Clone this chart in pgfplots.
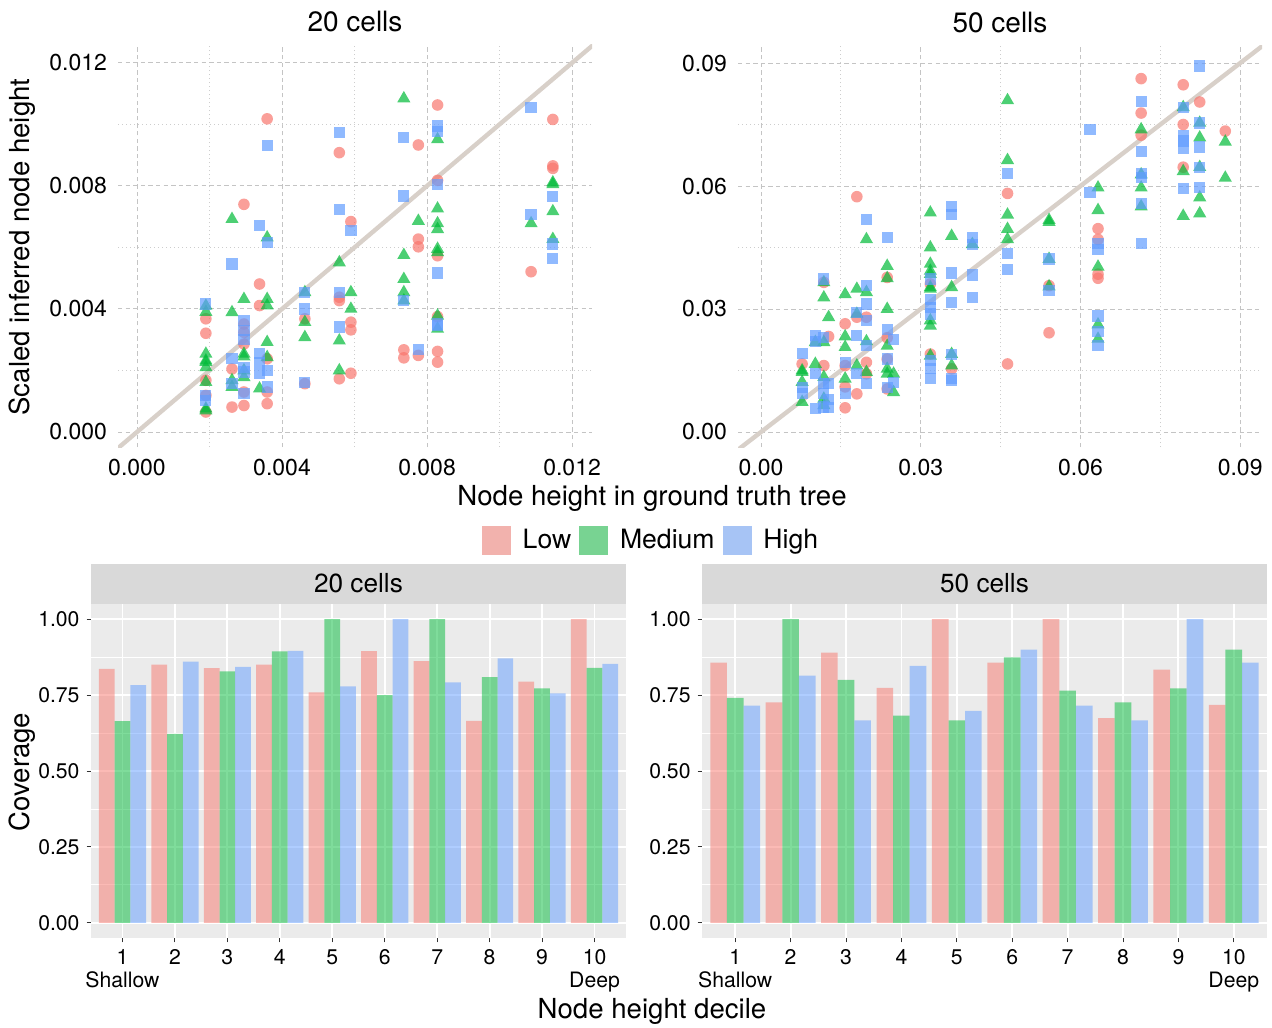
\documentclass[border=0pt]{standalone}
\usepackage{fontspec}
\setmainfont{TeX Gyre Heros}
\usepackage{pgfplots}
\usepackage{pgfplotstable}
\pgfplotsset{compat=1.18}

\definecolor{lowc}{HTML}{F8766D}
\definecolor{medc}{HTML}{00BA38}
\definecolor{highc}{HTML}{619CFF}
\definecolor{lowkey}{HTML}{F2B2AD}
\definecolor{medkey}{HTML}{78D392}
\definecolor{highkey}{HTML}{A7C4F5}
\definecolor{panelc}{HTML}{EBEBEB}
\definecolor{stripc}{HTML}{D9D9D9}
\definecolor{linec}{HTML}{D8D0C9}
\definecolor{gridc}{HTML}{C4C4C4}
\definecolor{tickc}{HTML}{333333}

% coverage per height decile
\pgfplotstableread{
dec low med high
1 0.836 0.664 0.783
2 0.850 0.622 0.860
3 0.839 0.828 0.843
4 0.850 0.894 0.896
5 0.759 1.000 0.779
6 0.895 0.750 1.000
7 0.862 1.000 0.792
8 0.665 0.809 0.871
9 0.794 0.772 0.756
10 1.000 0.840 0.853
}\covtwenty

\pgfplotstableread{
dec low med high
1 0.857 0.741 0.715
2 0.726 1.000 0.814
3 0.890 0.800 0.667
4 0.774 0.682 0.846
5 1.000 0.667 0.698
6 0.857 0.874 0.900
7 1.000 0.765 0.715
8 0.674 0.726 0.667
9 0.834 0.772 1.000
10 0.718 0.900 0.857
}\covfifty

\newcommand{\axisfont}{\fontsize{13.8}{16}\selectfont}

\pgfplotsset{
  every axis title shift=0pt,
  topax/.style={
    scale only axis, height=201pt,
    axis line style={draw=none},
    major tick length=0pt, minor tick length=0pt,
    grid=both,
    major grid style={gridc, line width=0.45pt, dash pattern=on 2.2pt off 1.6pt},
    minor grid style={gridc!85, line width=0.4pt, dash pattern=on 0.7pt off 1.3pt},
    tick label style={font=\fontsize{11.5}{13}\selectfont, text=black},
    xticklabel style={yshift=-2.5pt},
    yticklabel style={xshift=-2pt},
    scaled ticks=false,
    title style={font=\fontsize{14}{16}\selectfont, at={(0.5,1)}, anchor=base, yshift=6.5pt},
  },
  botax/.style={
    scale only axis, height=167pt,
    xmin=0.4, xmax=10.6, ymin=-0.05, ymax=1.05,
    axis background/.style={fill=panelc},
    axis line style={draw=none},
    xtick={1,...,10},
    xticklabels={{1\\Shallow},2,3,4,5,6,7,8,9,{10\\Deep}},
    ytick={0,0.25,0.5,0.75,1},
    yticklabels={0.00,0.25,0.50,0.75,1.00},
    minor ytick={0.125,0.375,0.625,0.875},
    xmajorgrids, ymajorgrids, yminorgrids,
    major grid style={white, line width=0.9pt},
    minor grid style={white, line width=0.45pt},
    xtick pos=lower, ytick pos=left,
    tick align=outside, major tick length=2.2pt, minor tick length=0pt,
    major tick style={tickc, line width=0.5pt},
    tick label style={font=\fontsize{10.6}{11.5}\selectfont, text=black},
    xticklabel style={align=center, anchor=north},
    ybar, bar width=0.3,
    title style={at={(0.5,1)}, anchor=south, fill=stripc, minimum height=20pt,
      inner sep=0pt, font=\fontsize{13.1}{15}\selectfont},
  },
  lowpt/.style={only marks, color=lowc, mark=*, mark size=2.9pt,
    mark options={solid, fill=lowc, draw opacity=0, fill opacity=0.7}, forget plot},
  medpt/.style={only marks, color=medc, mark=triangle*, mark size=3.8pt,
    mark options={solid, fill=medc, draw opacity=0, fill opacity=0.7}, forget plot},
  highpt/.style={only marks, color=highc, mark=square*, mark size=2.8pt,
    mark options={solid, fill=highc, draw opacity=0, fill opacity=0.7}, forget plot},
  diag/.style={no marks, linec, line width=2.2pt, forget plot},
}

\begin{document}
\begin{tikzpicture}
\path[use as bounding box] (0,0) rectangle (636pt,-513.5pt);

% ---- top left: 20 cells
\begin{axis}[topax, at={(59pt,-223.5pt)}, anchor=south west, width=237pt,
  xmin=-0.000524, xmax=0.01255, ymin=-0.000488, ymax=0.01258,
  xtick={0,0.004,0.008,0.012}, minor xtick={0.002,0.006,0.010},
  ytick={0,0.004,0.008,0.012}, minor ytick={0.002,0.006,0.010},
  xticklabels={0.000,0.004,0.008,0.012},
  yticklabels={0.000,0.004,0.008,0.012},
  title={20 cells},
  legend image code/.code={\fill[#1] (0pt,-7pt) rectangle (14pt,7pt); \path (18pt,0pt);},
  legend style={at={(1.1266,-0.2313)}, anchor=center, draw=none, fill=none,
    legend columns=-1, font=\fontsize{13.3}{15}\selectfont,
    /tikz/every even column/.append style={column sep=2pt}},
]
\addplot[diag] coordinates {(-0.001,-0.001) (0.013,0.013)};
\addplot[lowpt] table {
x y
0.0019 0.00368
0.0019 0.00321
0.0019 0.00168
0.0019 0.00119
0.0019 0.00065
0.00262 0.00205
0.00262 0.00081
0.00295 0.0074
0.00295 0.00351
0.00295 0.00324
0.00295 0.00286
0.00295 0.0013
0.00295 0.00086
0.00338 0.00481
0.00338 0.00411
0.00359 0.01018
0.00359 0.00238
0.00359 0.0013
0.00359 0.00092
0.00463 0.00368
0.00463 0.00157
0.00558 0.00908
0.00558 0.00438
0.00558 0.00427
0.00558 0.00173
0.0059 0.00684
0.0059 0.00357
0.0059 0.00332
0.0059 0.00191
0.00736 0.00267
0.00736 0.00241
0.00776 0.00933
0.00776 0.00627
0.00776 0.00602
0.00776 0.00249
0.00829 0.01063
0.00829 0.00818
0.00829 0.00573
0.00829 0.00375
0.00829 0.00262
0.00829 0.00227
0.01087 0.00521
0.01147 0.01016
0.01147 0.00865
0.01147 0.00857
};
\addplot[medpt] table {
x y
0.0019 0.0039
0.0019 0.0041
0.0019 0.00254
0.0019 0.00232
0.0019 0.00227
0.0019 0.0021
0.0019 0.00162
0.0019 0.00076
0.0019 0.0007
0.00262 0.00692
0.00262 0.00389
0.00262 0.00168
0.00262 0.00146
0.00295 0.00432
0.00295 0.00254
0.00295 0.00245
0.00295 0.002
0.00295 0.00178
0.00338 0.00141
0.00359 0.00632
0.00359 0.00432
0.00359 0.00411
0.00359 0.00292
0.00359 0.00243
0.00463 0.00454
0.00463 0.00357
0.00463 0.00308
0.00558 0.00551
0.00558 0.00297
0.00558 0.002
0.0059 0.00454
0.0059 0.004
0.00736 0.01084
0.00736 0.00575
0.00736 0.00497
0.00736 0.00454
0.00736 0.00427
0.00776 0.00686
0.00829 0.00951
0.00829 0.00726
0.00829 0.00678
0.00829 0.00659
0.00829 0.00595
0.00829 0.00584
0.00829 0.00378
0.00829 0.00335
0.01087 0.00678
0.01147 0.00811
0.01147 0.00805
0.01147 0.00717
0.01147 0.00627
};
\addplot[highpt] table {
x y
0.0019 0.00416
0.0019 0.00119
0.0019 0.00103
0.00262 0.00546
0.00262 0.00238
0.00262 0.00157
0.00295 0.00362
0.00295 0.0033
0.00295 0.003
0.00295 0.0021
0.00295 0.00195
0.00295 0.00124
0.00338 0.0067
0.00338 0.00254
0.00338 0.00227
0.00338 0.00189
0.00359 0.00932
0.00359 0.00616
0.00359 0.002
0.00359 0.00146
0.00463 0.00454
0.00463 0.004
0.00463 0.00162
0.00558 0.00973
0.00558 0.00724
0.00558 0.00454
0.00558 0.00341
0.0059 0.00654
0.00736 0.00957
0.00736 0.00767
0.00736 0.00427
0.00776 0.00267
0.00829 0.00995
0.00829 0.00978
0.00829 0.00805
0.00829 0.00517
0.00829 0.00351
0.00829 0.00346
0.01087 0.01056
0.01087 0.00706
0.01147 0.00765
0.01147 0.00611
0.01147 0.00565
};
\addlegendimage{lowkey}
\addlegendentry{Low}
\addlegendimage{medkey}
\addlegendentry{Medium}
\addlegendimage{highkey}
\addlegendentry{High}
\end{axis}

% ---- top right: 50 cells
\begin{axis}[topax, at={(369pt,-223.5pt)}, anchor=south west, width=262pt,
  xmin=-0.00432, xmax=0.0941, ymin=-0.00366, ymax=0.0944,
  xtick={0,0.03,0.06,0.09}, minor xtick={0.015,0.045,0.075},
  ytick={0,0.03,0.06,0.09}, minor ytick={0.015,0.045,0.075},
  xticklabels={0.00,0.03,0.06,0.09},
  yticklabels={0.00,0.03,0.06,0.09},
  title={50 cells},
]
\addplot[diag] coordinates {(-0.01,-0.01) (0.1,0.1)};
\addplot[lowpt] table {
x y
0.00772 0.0166
0.0118 0.0365
0.0118 0.0162
0.0127 0.0233
0.0158 0.0264
0.0158 0.0162
0.0158 0.011
0.0158 0.0059
0.018 0.0574
0.018 0.028
0.018 0.0093
0.0198 0.028
0.0198 0.017
0.0198 0.0142
0.0237 0.0377
0.0237 0.023
0.0237 0.0178
0.0237 0.0105
0.0318 0.0361
0.0318 0.019
0.0358 0.0154
0.0463 0.0582
0.0463 0.0166
0.0541 0.0357
0.0541 0.0242
0.0633 0.0496
0.0633 0.047
0.0633 0.0385
0.0633 0.0375
0.0714 0.0862
0.0714 0.0778
0.0714 0.0724
0.0793 0.0847
0.0793 0.075
0.0793 0.0646
0.0824 0.0805
0.0872 0.0734
};
\addplot[medpt] table {
x y
0.00772 0.015
0.00772 0.0146
0.00772 0.0122
0.00772 0.0073
0.0102 0.0219
0.0102 0.0166
0.0118 0.0365
0.0118 0.0328
0.0118 0.0219
0.0118 0.0134
0.0118 0.0081
0.0118 0.0065
0.0127 0.028
0.0158 0.0336
0.0158 0.0233
0.0158 0.0207
0.0158 0.013
0.018 0.0349
0.018 0.0288
0.018 0.0162
0.0198 0.047
0.0198 0.0341
0.0198 0.0221
0.0198 0.0146
0.0237 0.0405
0.0237 0.0375
0.0237 0.03
0.0237 0.021
0.0237 0.0154
0.0237 0.0142
0.0249 0.0142
0.0249 0.0097
0.0318 0.0535
0.0318 0.045
0.0318 0.041
0.0318 0.0393
0.0318 0.0385
0.0318 0.0353
0.0318 0.0349
0.0318 0.0272
0.0318 0.0259
0.0318 0.0186
0.0358 0.0478
0.0358 0.0353
0.0358 0.019
0.0358 0.0162
0.0397 0.0458
0.0463 0.0809
0.0463 0.0663
0.0463 0.053
0.0463 0.0495
0.0463 0.047
0.0541 0.0517
0.0541 0.0512
0.0541 0.0422
0.0541 0.0355
0.0633 0.0596
0.0633 0.0541
0.0633 0.0403
0.0633 0.0262
0.0633 0.0227
0.0714 0.0738
0.0714 0.0628
0.0714 0.0596
0.0714 0.055
0.0793 0.0792
0.0793 0.0636
0.0793 0.0527
0.0824 0.0754
0.0824 0.0718
0.0824 0.0646
0.0824 0.0572
0.0824 0.0533
0.0872 0.0708
0.0872 0.062
};
\addplot[highpt] table {
x y
0.00772 0.0192
0.00772 0.0109
0.00772 0.0093
0.0102 0.0235
0.0102 0.022
0.0102 0.0142
0.0102 0.0057
0.0118 0.0373
0.0118 0.0231
0.0118 0.0118
0.0118 0.0093
0.0118 0.0061
0.0127 0.0119
0.0127 0.008
0.0127 0.006
0.0158 0.017
0.0158 0.0093
0.018 0.0292
0.018 0.0235
0.018 0.0142
0.0198 0.0519
0.0198 0.0357
0.0198 0.0312
0.0198 0.0272
0.0198 0.0211
0.0198 0.0118
0.0237 0.0474
0.0237 0.025
0.0237 0.0178
0.0237 0.0109
0.0249 0.0225
0.0249 0.012
0.0318 0.0373
0.0318 0.0324
0.0318 0.0304
0.0318 0.0288
0.0318 0.0174
0.0318 0.0154
0.0318 0.013
0.0358 0.0551
0.0358 0.0531
0.0358 0.0388
0.0358 0.0316
0.0358 0.019
0.0358 0.013
0.0358 0.0126
0.0397 0.0474
0.0397 0.0458
0.0397 0.0383
0.0397 0.0328
0.0463 0.063
0.0463 0.0436
0.0463 0.0396
0.0541 0.0422
0.0541 0.0345
0.0618 0.0738
0.0618 0.0585
0.0633 0.046
0.0633 0.0446
0.0633 0.0283
0.0633 0.0246
0.0633 0.0211
0.0714 0.0807
0.0714 0.0684
0.0714 0.0631
0.0714 0.062
0.0714 0.0558
0.0714 0.046
0.0793 0.0792
0.0793 0.0722
0.0793 0.071
0.0793 0.0693
0.0793 0.0594
0.0824 0.0893
0.0824 0.0754
0.0824 0.0695
0.0824 0.0646
0.0824 0.0596
};
\end{axis}

% ---- bottom left: coverage, 20 cells
\begin{axis}[botax, at={(45.5pt,-469pt)}, anchor=south west, width=267.5pt,
  title={20 cells}, title style={minimum width=267.5pt}]
\addplot[fill=lowc, fill opacity=0.5, draw=none, bar shift=-0.3] table[x=dec, y=low] {\covtwenty};
\addplot[fill=medc, fill opacity=0.5, draw=none, bar shift=0] table[x=dec, y=med] {\covtwenty};
\addplot[fill=highc, fill opacity=0.5, draw=none, bar shift=0.3] table[x=dec, y=high] {\covtwenty};
\end{axis}

% ---- bottom right: coverage, 50 cells
\begin{axis}[botax, at={(351pt,-469pt)}, anchor=south west, width=282.5pt,
  title={50 cells}, title style={minimum width=282.5pt}]
\addplot[fill=lowc, fill opacity=0.5, draw=none, bar shift=-0.3] table[x=dec, y=low] {\covfifty};
\addplot[fill=medc, fill opacity=0.5, draw=none, bar shift=0] table[x=dec, y=med] {\covfifty};
\addplot[fill=highc, fill opacity=0.5, draw=none, bar shift=0.3] table[x=dec, y=high] {\covfifty};
\end{axis}

% shared axis titles
\node[rotate=90, font=\axisfont] at (11pt,-123.5pt) {Scaled inferred node height};
\node[font=\axisfont] at (326pt,-249pt) {Node height in ground truth tree};
\node[rotate=90, font=\axisfont] at (11pt,-386pt) {Coverage};
\node[font=\axisfont] at (326pt,-505.5pt) {Node height decile};
\end{tikzpicture}
\end{document}
